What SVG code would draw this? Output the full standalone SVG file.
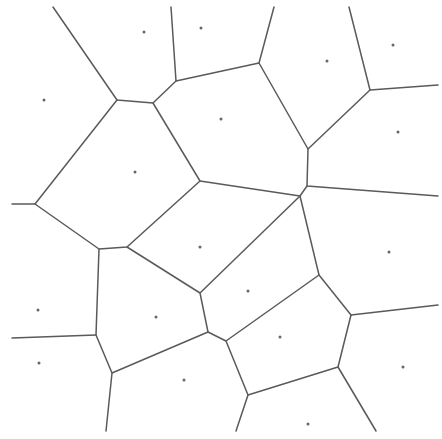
<svg xmlns="http://www.w3.org/2000/svg" width="442" height="439" viewBox="0 0 442 439">
<style>
.e{stroke:#5a5a5a;stroke-width:1.5;fill:none;stroke-linecap:round;stroke-linejoin:round}
.p{fill:#666}
</style>
<rect width="442" height="439" fill="#fff"/>
<g id="connectors" class="e">
<path d="M53,7L117,100L153,103L176,81L171,7"/>
<path d="M176,81L259,63L274,7"/>
<path d="M259,63L308,149L370,90L349,7"/>
<path d="M370,90L438,85"/>
<path d="M308,149L307,186L438,196"/>
<path d="M307,186L300,196L200,181L153,103"/>
<path d="M117,100L35,204L12,204"/>
<path d="M35,204L99,249L127,247L200,181"/>
<path d="M127,247L200,293L300,196L319,275L226,341L208,332L200,293"/>
<path d="M208,332L112,373L96,335L99,249"/>
<path d="M96,335L12,338"/>
<path d="M112,373L106,431"/>
<path d="M319,275L351,315L438,305"/>
<path d="M351,315L338,367L376,431"/>
<path d="M338,367L248,395L226,341"/>
<path d="M248,395L236,431"/>
</g>
<g id="sites" class="p">
<circle id="s1" cx="144" cy="32" r="1.5"/>
<circle id="s2" cx="201" cy="28" r="1.5"/>
<circle id="s3" cx="44" cy="100" r="1.5"/>
<circle id="s4" cx="135" cy="172" r="1.5"/>
<circle id="s5" cx="327" cy="61" r="1.5"/>
<circle id="s6" cx="393" cy="45" r="1.5"/>
<circle id="s7" cx="221" cy="119" r="1.5"/>
<circle id="s8" cx="398" cy="132" r="1.5"/>
<circle id="s9" cx="200" cy="247" r="1.5"/>
<circle id="s10" cx="38" cy="310" r="1.5"/>
<circle id="s11" cx="156" cy="317" r="1.5"/>
<circle id="s12" cx="39" cy="363" r="1.5"/>
<circle id="s13" cx="184" cy="380" r="1.5"/>
<circle id="s14" cx="389" cy="252" r="1.5"/>
<circle id="s15" cx="248" cy="291" r="1.5"/>
<circle id="s16" cx="280" cy="337" r="1.5"/>
<circle id="s17" cx="403" cy="367" r="1.5"/>
<circle id="s18" cx="308" cy="424" r="1.5"/>
</g>
</svg>
